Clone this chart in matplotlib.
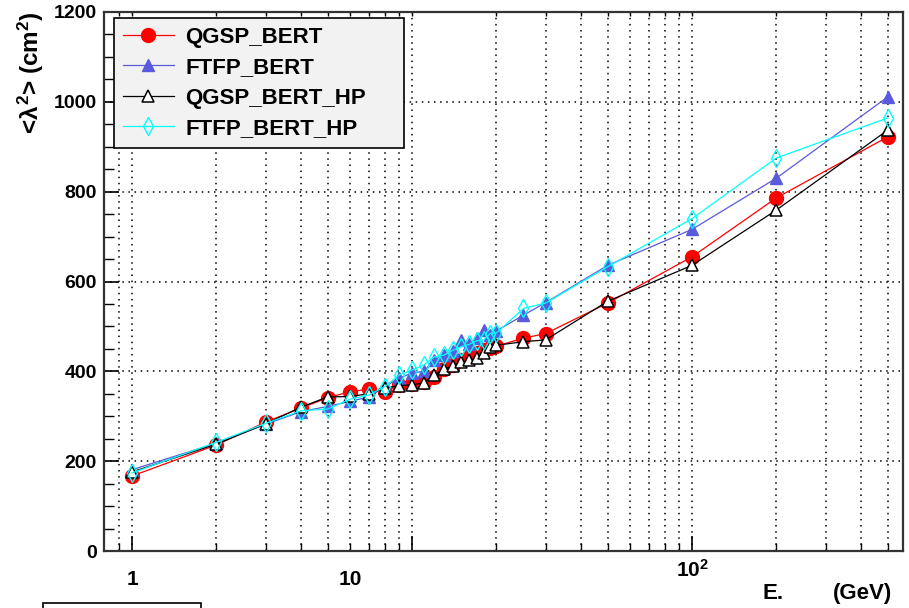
import matplotlib
matplotlib.use('Agg')
import matplotlib.pyplot as plt
from matplotlib.ticker import FixedLocator, NullFormatter, MultipleLocator
from matplotlib.patches import Rectangle

# beam energy (GeV) and mean squared lateral size <lambda^2> (cm^2)
energy = [1, 2, 3, 4, 5, 6, 7, 8, 9, 10, 11, 12, 13, 14, 15, 16, 17, 18, 19, 20,
          25, 30, 50, 100, 200, 500]
qgsp_bert = [167, 236, 287, 318, 341, 355, 360, 354, 370, 372, 376, 388, 405, 414, 425,
             432, 440, 448, 452, 456, 474, 484, 552, 655, 786, 922]
ftfp_bert = [181, 240, 282, 310, 322, 333, 343, 366, 385, 396, 400, 425, 437, 445, 470,
             460, 475, 492, 480, 490, 525, 553, 636, 716, 830, 1011]
qgsp_bert_hp = [176, 238, 283, 320, 343, 344, 350, 363, 368, 370, 374, 392, 405, 412, 420,
                425, 430, 440, 455, 458, 466, 470, 556, 636, 759, 937]
ftfp_bert_hp = [174, 242, 284, 312, 316, 338, 347, 366, 392, 403, 414, 432, 436, 447, 455,
                460, 468, 470, 484, 485, 540, 552, 633, 740, 875, 964]

x_major = [1, 10, 100]
x_minor = [0.9, 2, 3, 4, 5, 6, 7, 8, 9, 20, 30, 40, 50, 60, 70, 80, 90, 200, 300, 400, 500]

plt.rcParams['font.family'] = ['Liberation Sans', 'DejaVu Sans']
plt.rcParams['font.weight'] = 'bold'
plt.rcParams['mathtext.fontset'] = 'custom'
plt.rcParams['mathtext.rm'] = 'Liberation Sans:bold'
plt.rcParams['mathtext.it'] = 'Liberation Sans:bold'
plt.rcParams['mathtext.bf'] = 'Liberation Sans:bold'

W, H = 909, 608
fig = plt.figure(figsize=(W / 100, H / 100), dpi=100)
ax = fig.add_axes([104 / W, 57 / H, 799 / W, 539 / H])

ax.plot(energy, qgsp_bert, color='red', marker='o', ms=10, lw=0.9, label='QGSP_BERT')
ax.plot(energy, ftfp_bert, color='#5a5adc', marker='^', ms=8, lw=0.9, label='FTFP_BERT')
ax.plot(energy, qgsp_bert_hp, color='black', marker='^', ms=9, mfc='white', mew=1.1,
        lw=0.9, label='QGSP_BERT_HP')
ax.plot(energy, ftfp_bert_hp, color='cyan', marker='d', ms=9, mfc='none', mew=1.0,
        lw=0.9, label='FTFP_BERT_HP')

ax.set_xscale('log')
ax.set_xlim(0.794, 567)
ax.set_ylim(0, 1200)

ax.xaxis.set_major_locator(FixedLocator(x_major))
ax.xaxis.set_minor_locator(FixedLocator(x_minor))
ax.xaxis.set_major_formatter(NullFormatter())
ax.xaxis.set_minor_formatter(NullFormatter())
ax.yaxis.set_major_locator(MultipleLocator(200))
ax.yaxis.set_minor_locator(MultipleLocator(50))

dots = (0, (1, 3))
ax.grid(True, which='both', axis='x', color='black', linestyle=dots, lw=1.1)
ax.grid(True, which='major', axis='y', color='black', linestyle=dots, lw=1.1)
ax.set_axisbelow(True)

ax.tick_params(axis='x', which='major', direction='in', length=11, width=1.2, top=False)
ax.tick_params(axis='x', which='minor', direction='in', length=6, width=1.0, top=False)
ax.tick_params(axis='y', which='major', direction='in', length=11, width=1.2,
               labelsize=14, pad=5, right=False)
ax.tick_params(axis='y', which='minor', direction='in', length=7, width=1.0, right=False)

# short ticks along the top edge
top = ax.secondary_xaxis('top')
top.xaxis.set_major_locator(FixedLocator(x_major))
top.xaxis.set_minor_locator(FixedLocator(x_minor))
top.xaxis.set_major_formatter(NullFormatter())
top.xaxis.set_minor_formatter(NullFormatter())
top.tick_params(which='both', direction='in', length=3, width=1.0)
top.spines['top'].set_visible(False)

for s in ax.spines.values():
    s.set_color('#333333')
    s.set_linewidth(1.6)

# x tick labels
xt = ax.get_xaxis_transform()
ax.text(1, -0.063, '1', transform=xt, ha='center', va='baseline', fontsize=15)
ax.text(6, -0.063, '10', transform=xt, ha='center', va='baseline', fontsize=15)
ax.text(100, -0.048, r'$10^{2}$', transform=xt, ha='center', va='baseline', fontsize=15)

# axis titles
fig.text(763 / W, 9 / H, 'E.', fontsize=16, ha='left', va='baseline')
fig.text(833 / W, 9 / H, '(GeV)', fontsize=16, ha='left', va='baseline')
fig.text(31 / W, 1 - 11 / H, r'<$\lambda^{2}$> (cm$^{2}$)', fontsize=17.5,
         rotation=90, ha='center', va='top')

leg = ax.legend(loc='upper left', bbox_to_anchor=(114 / W, 1 - 18 / H, 290 / W, 0),
                bbox_transform=fig.transFigure, mode='expand', borderaxespad=0,
                fancybox=False, framealpha=1, fontsize=16, labelspacing=0.42,
                handlelength=2.3, handletextpad=0.5, borderpad=0.4)
leg.get_frame().set_facecolor('#f2f2f2')
leg.get_frame().set_edgecolor('black')
leg.get_frame().set_linewidth(1.2)

# box edge peeking in at the bottom
fig.add_artist(Rectangle((43 / W, -0.03), 158 / W, 0.03 + 5 / H, transform=fig.transFigure,
                         facecolor='white', edgecolor='black', lw=1.2, clip_on=False))

fig.savefig('out.png', dpi=100)
